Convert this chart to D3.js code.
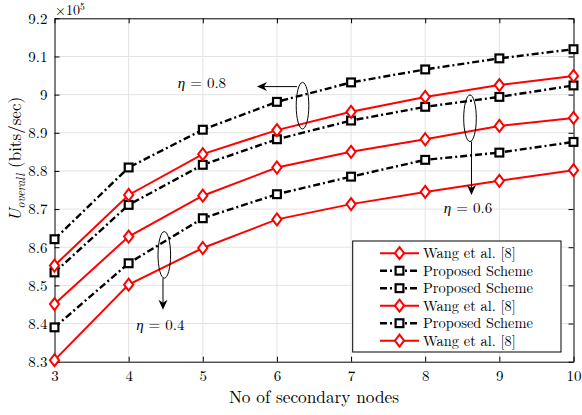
<!DOCTYPE html>
<html><head><meta charset="utf-8">
<script src="https://cdn.jsdelivr.net/npm/d3@7"></script>
<style>
body{margin:0;background:#fff}
svg{display:block}
</style>
</head><body>
<svg id="c" width="582" height="415"></svg>
<script>
// ---- data (values in units of 10^5 bits/sec) ----
const nodes = [3, 4, 5, 6, 7, 8, 9, 10];
const proposed08 = [8.621, 8.809, 8.908, 8.981, 9.032, 9.066, 9.095, 9.119];
const wang08     = [8.552, 8.737, 8.844, 8.907, 8.955, 8.994, 9.025, 9.049];
const proposed06 = [8.534, 8.711, 8.816, 8.883, 8.932, 8.968, 8.994, 9.024];
const wang06     = [8.451, 8.628, 8.735, 8.809, 8.850, 8.883, 8.918, 8.939];
const proposed04 = [8.390, 8.558, 8.676, 8.739, 8.785, 8.829, 8.848, 8.876];
const wang04     = [8.304, 8.502, 8.598, 8.673, 8.713, 8.745, 8.774, 8.802];
const yTicks = [8.3, 8.4, 8.5, 8.6, 8.7, 8.8, 8.9, 9.0, 9.1, 9.2];
const yTickLabels = ["8.3","8.4","8.5","8.6","8.7","8.8","8.9","9","9.1","9.2"];
const xTickLabels = ["3","4","5","6","7","8","9","10"];
const legendLabels = ["Wang et al. [8]","Proposed Scheme","Proposed Scheme","Wang et al. [8]","Proposed Scheme","Wang et al. [8]"];
const legendKinds  = ["wang","proposed","proposed","wang","proposed","wang"];
const etaLabels = ["0.8", "0.6", "0.4"];

const FONT = '"Latin Modern Roman"';

const series = [
  {kind:"wang", values: wang04},
  {kind:"proposed", values: proposed04},
  {kind:"wang", values: wang06},
  {kind:"proposed", values: proposed06},
  {kind:"wang", values: wang08},
  {kind:"proposed", values: proposed08}
];

const svg = d3.select("#c");
const L = 54.5, R = 573.5, T = 18.3, B = 361.7;
const x = d3.scaleLinear().domain([3, 10]).range([L, R]);
const y = d3.scaleLinear().domain([8.3, 9.2]).range([B, T]);

// grid
const g = svg.append("g");
g.selectAll(".gx").data(nodes.slice(1, -1)).enter().append("line")
  .attr("x1", d => x(d)).attr("x2", d => x(d)).attr("y1", T).attr("y2", B)
  .attr("stroke", "#e3e3e3").attr("stroke-width", 1);
g.selectAll(".gy").data(yTicks.slice(1, -1)).enter().append("line")
  .attr("x1", L).attr("x2", R).attr("y1", d => y(d)).attr("y2", d => y(d))
  .attr("stroke", "#e3e3e3").attr("stroke-width", 1);

// axes
const fmtX = (d, i) => xTickLabels[i];
const fmtY = (d, i) => yTickLabels[i];
const axB = svg.append("g").attr("transform", `translate(0,${B})`)
  .call(d3.axisBottom(x).tickValues(nodes).tickFormat(fmtX).tickSizeInner(-5).tickSizeOuter(0).tickPadding(9));
const axT = svg.append("g").attr("transform", `translate(0,${T})`)
  .call(d3.axisTop(x).tickValues(nodes).tickFormat("").tickSizeInner(-5).tickSizeOuter(0));
const axLft = svg.append("g").attr("transform", `translate(${L},0)`)
  .call(d3.axisLeft(y).tickValues(yTicks).tickFormat(fmtY).tickSizeInner(-5).tickSizeOuter(0).tickPadding(7));
const axRt = svg.append("g").attr("transform", `translate(${R},0)`)
  .call(d3.axisRight(y).tickValues(yTicks).tickFormat("").tickSizeInner(-5).tickSizeOuter(0));
[axB, axT, axLft, axRt].forEach(a => {
  a.selectAll(".domain").attr("stroke", "#000").attr("stroke-width", 1);
  a.selectAll(".tick line").attr("stroke", "#000").attr("stroke-width", 1);
  a.selectAll("text").style("font-family", FONT).style("font-size", "15px").attr("fill", "#000");
});

// lines
const line = d3.line().x((d, i) => x(nodes[i])).y(d => y(d));
const styles = {
  wang: {stroke: "#ff0000", width: 2, dash: null},
  proposed: {stroke: "#000", width: 2.4, dash: "7,3,2,3"}
};
function marker(sel, kind, cx, cy) {
  if (kind === "wang") {
    sel.append("path")
      .attr("d", `M${cx},${cy - 6} L${cx + 4.6},${cy} L${cx},${cy + 6} L${cx - 4.6},${cy} Z`)
      .attr("fill", "#fff").attr("stroke", "#ff0000").attr("stroke-width", 2);
  } else {
    sel.append("rect").attr("x", cx - 3.9).attr("y", cy - 3.9).attr("width", 7.8).attr("height", 7.8)
      .attr("fill", "#fff").attr("stroke", "#000").attr("stroke-width", 2.2);
  }
}
series.forEach(s => {
  const st = styles[s.kind];
  svg.append("path").datum(s.values).attr("d", line)
    .attr("fill", "none").attr("stroke", st.stroke).attr("stroke-width", st.width)
    .attr("stroke-dasharray", st.dash);
});
series.forEach(s => {
  const mg = svg.append("g");
  s.values.forEach((v, i) => marker(mg, s.kind, x(nodes[i]), y(v)));
});

// annotations (positioned in data units)
const ellipses = [
  {cx: 6.345, cy: 8.971}, {cx: 8.604, cy: 8.938}, {cx: 4.481, cy: 8.580}
];
ellipses.forEach(e => svg.append("ellipse").attr("cx", x(e.cx)).attr("cy", y(e.cy))
  .attr("rx", 6.3).attr("ry", 23.3).attr("fill", "none").attr("stroke", "#000").attr("stroke-width", 1));

const arrows = [
  {x1: 6.271, y1: 9.021, x2: 5.731, y2: 9.021},
  {x1: 8.624, y1: 8.877, x2: 8.624, y2: 8.737},
  {x1: 4.463, y1: 8.519, x2: 4.463, y2: 8.436}
];
arrows.forEach(a => {
  const X1 = x(a.x1), Y1 = y(a.y1), X2 = x(a.x2), Y2 = y(a.y2);
  const ang = Math.atan2(Y2 - Y1, X2 - X1);
  const len = 10, wid = 4.5, back = 7;
  const ux = Math.cos(ang), uy = Math.sin(ang), px = -uy, py = ux;
  svg.append("line").attr("x1", X1).attr("y1", Y1).attr("x2", X2 - ux * back).attr("y2", Y2 - uy * back)
    .attr("stroke", "#000").attr("stroke-width", 1);
  const bx = X2 - ux * len, by = Y2 - uy * len;
  svg.append("path").attr("d",
    `M${X2},${Y2} L${bx + px * wid},${by + py * wid} L${X2 - ux * back},${Y2 - uy * back} L${bx - px * wid},${by - py * wid} Z`)
    .attr("fill", "#000");
});

const etaPos = [{x: 4.989, y: 9.030}, {x: 8.577, y: 8.702}, {x: 4.427, y: 8.396}];
etaPos.forEach((p, i) => {
  const t = svg.append("text").attr("x", x(p.x)).attr("y", y(p.y) + 5)
    .attr("text-anchor", "middle").style("font-family", FONT).style("font-size", "15px");
  t.append("tspan").style("font-style", "italic").text("η");
  t.append("tspan").text(" = " + etaLabels[i]);
});

// multiplier
const mult = svg.append("text").attr("x", 55).attr("y", 14.5).style("font-family", FONT).style("font-size", "14px");
mult.append("tspan").text("×10");
mult.append("tspan").attr("dy", -4.5).style("font-size", "9.5px").text("5");

// axis labels
svg.append("text").attr("x", (L + R) / 2).attr("y", 403).attr("text-anchor", "middle")
  .style("font-family", FONT).style("font-size", "17.3px").text("No of secondary nodes");
const yl = svg.append("text").attr("transform", "translate(21,159) rotate(-90)")
  .attr("text-anchor", "middle").style("font-family", FONT).style("font-size", "17px");
yl.append("tspan").style("font-style", "italic").text("U");
yl.append("tspan").attr("dy", 4).style("font-style", "italic").style("font-size", "12px").text("overall");
yl.append("tspan").attr("dy", -4).text(" (bits/sec)");

// legend
const lg = svg.append("g");
const LX0 = 352.7, LX1 = 561, LY0 = 241, LY1 = 352;
lg.append("rect").attr("x", LX0).attr("y", LY0).attr("width", LX1 - LX0).attr("height", LY1 - LY0)
  .attr("fill", "#fff").attr("stroke", "#000").attr("stroke-width", 1);
const rowY = d3.scaleLinear().domain([0, legendLabels.length - 1]).range([253.2, 340.7]);
legendLabels.forEach((lab, i) => {
  const k = legendKinds[i], st = styles[k], yy = rowY(i);
  lg.append("line").attr("x1", 380).attr("x2", 419).attr("y1", yy).attr("y2", yy)
    .attr("stroke", st.stroke).attr("stroke-width", st.width).attr("stroke-dasharray", st.dash);
  marker(lg, k, 399.5, yy);
  lg.append("text").attr("x", 423).attr("y", yy + 5).style("font-family", FONT).style("font-size", "14.4px").text(lab);
});
</script>
</body></html>
